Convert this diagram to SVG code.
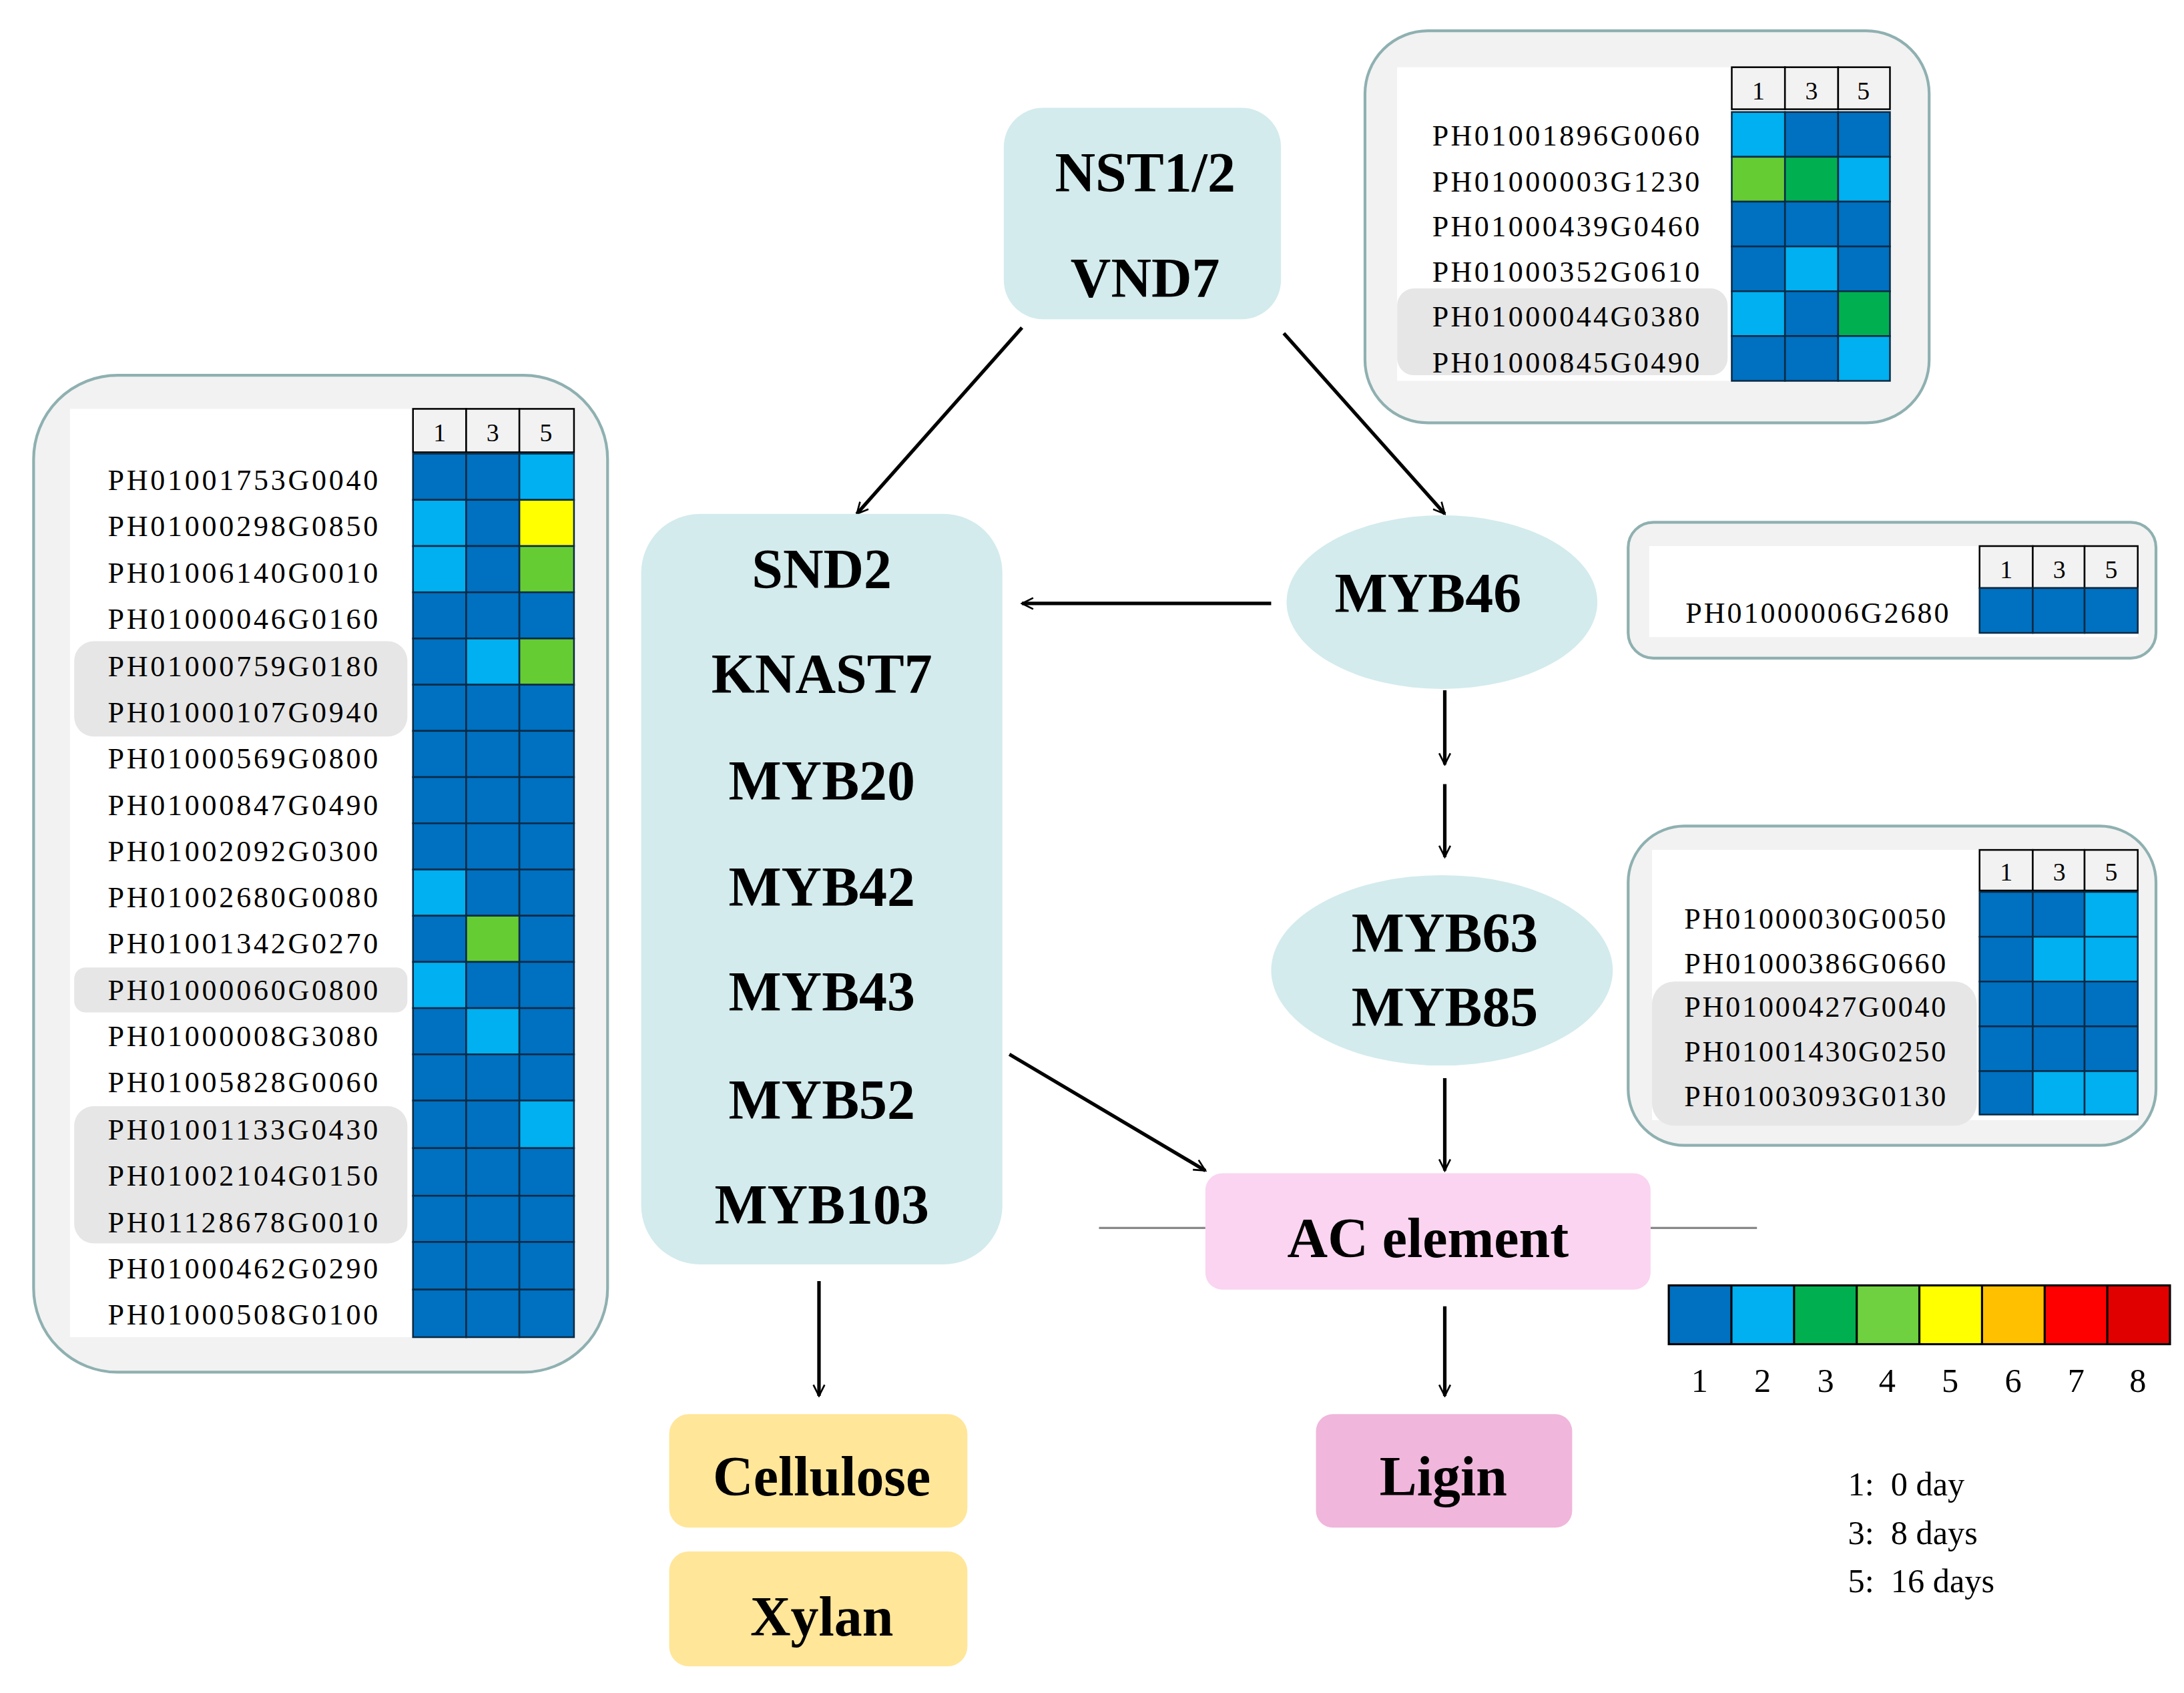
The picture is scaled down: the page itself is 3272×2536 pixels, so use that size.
<svg xmlns="http://www.w3.org/2000/svg" width="3272" height="2536" viewBox="0 0 3272 2536">
<style>
.panel{fill:#f2f2f2;stroke:#8fb0b0;stroke-width:2}
.inner{fill:#fff}
.hl{fill:#e6e6e6}
.gene{font-family:"Liberation Serif",serif;font-size:21px;fill:#000;text-anchor:end}
.hd{fill:#f2f2f2;stroke:#000;stroke-width:1.2}
.hdt{font-family:"Liberation Serif",serif;font-size:18px;text-anchor:middle}
.D{fill:#0070c0;stroke:#0a2a44;stroke-width:1.2}
.L{fill:#00b0f0;stroke:#0a2a44;stroke-width:1.2}
.G3{fill:#00b050;stroke:#0a2a44;stroke-width:1.2}
.G4{fill:#66cc33;stroke:#0a2a44;stroke-width:1.2}
.Y{fill:#ffff00;stroke:#0a2a44;stroke-width:1.2}
.node{fill:#d3ebed}
.big{font-family:"Liberation Serif",serif;font-weight:bold;font-size:40px;text-anchor:middle;fill:#000}
.leg{font-family:"Liberation Serif",serif;font-size:24px;fill:#000}
.arr{stroke:#000;stroke-width:2.5;fill:none;marker-end:url(#ah)}
</style>
<defs>
<marker id="ah" viewBox="0 0 20 20" refX="18" refY="10" markerWidth="10" markerHeight="10" markerUnits="userSpaceOnUse" orient="auto">
<path d="M2,2 L18,10 L2,18" fill="none" stroke="#000" stroke-width="2.5"/>
</marker>
</defs>
<g transform="scale(2.0974)">
<g id="panel-left">
<rect class="panel" x="24" y="268" width="410" height="712" rx="60"/>
<rect class="inner" x="50" y="292" width="360" height="663"/>
<rect class="hl" x="53" y="458" width="238" height="68" rx="14"/>
<rect class="hl" x="53" y="691" width="238" height="32" rx="8"/>
<rect class="hl" x="53" y="790" width="238" height="98" rx="14"/>
<rect class="hd" x="295" y="292" width="38" height="31"/><rect class="hd" x="333" y="292" width="38" height="31"/><rect class="hd" x="371" y="292" width="39" height="31"/>
<text class="hdt" x="314" y="315">1</text><text class="hdt" x="352" y="315">3</text><text class="hdt" x="390" y="315">5</text>
<g class="gene">
<text x="270" y="350" textLength="193">PH01001753G0040</text>
<text x="270" y="383" textLength="193">PH01000298G0850</text>
<text x="270" y="416" textLength="193">PH01006140G0010</text>
<text x="270" y="449" textLength="193">PH01000046G0160</text>
<text x="270" y="483" textLength="193">PH01000759G0180</text>
<text x="270" y="516" textLength="193">PH01000107G0940</text>
<text x="270" y="549" textLength="193">PH01000569G0800</text>
<text x="270" y="582" textLength="193">PH01000847G0490</text>
<text x="270" y="615" textLength="193">PH01002092G0300</text>
<text x="270" y="648" textLength="193">PH01002680G0080</text>
<text x="270" y="681" textLength="193">PH01001342G0270</text>
<text x="270" y="714" textLength="193">PH01000060G0800</text>
<text x="270" y="747" textLength="193">PH01000008G3080</text>
<text x="270" y="780" textLength="193">PH01005828G0060</text>
<text x="270" y="814" textLength="193">PH01001133G0430</text>
<text x="270" y="847" textLength="193">PH01002104G0150</text>
<text x="270" y="880" textLength="193">PH01128678G0010</text>
<text x="270" y="913" textLength="193">PH01000462G0290</text>
<text x="270" y="946" textLength="193">PH01000508G0100</text>
</g>
<g>
<rect class="D" x="295" y="324" width="38" height="33"/><rect class="D" x="333" y="324" width="38" height="33"/><rect class="L" x="371" y="324" width="39" height="33"/>
<rect class="L" x="295" y="357" width="38" height="33"/><rect class="D" x="333" y="357" width="38" height="33"/><rect class="Y" x="371" y="357" width="39" height="33"/>
<rect class="L" x="295" y="390" width="38" height="33"/><rect class="D" x="333" y="390" width="38" height="33"/><rect class="G4" x="371" y="390" width="39" height="33"/>
<rect class="D" x="295" y="423" width="38" height="33"/><rect class="D" x="333" y="423" width="38" height="33"/><rect class="D" x="371" y="423" width="39" height="33"/>
<rect class="D" x="295" y="456" width="38" height="33"/><rect class="L" x="333" y="456" width="38" height="33"/><rect class="G4" x="371" y="456" width="39" height="33"/>
<rect class="D" x="295" y="489" width="38" height="33"/><rect class="D" x="333" y="489" width="38" height="33"/><rect class="D" x="371" y="489" width="39" height="33"/>
<rect class="D" x="295" y="522" width="38" height="33"/><rect class="D" x="333" y="522" width="38" height="33"/><rect class="D" x="371" y="522" width="39" height="33"/>
<rect class="D" x="295" y="555" width="38" height="33"/><rect class="D" x="333" y="555" width="38" height="33"/><rect class="D" x="371" y="555" width="39" height="33"/>
<rect class="D" x="295" y="588" width="38" height="33"/><rect class="D" x="333" y="588" width="38" height="33"/><rect class="D" x="371" y="588" width="39" height="33"/>
<rect class="L" x="295" y="621" width="38" height="33"/><rect class="D" x="333" y="621" width="38" height="33"/><rect class="D" x="371" y="621" width="39" height="33"/>
<rect class="D" x="295" y="654" width="38" height="33"/><rect class="G4" x="333" y="654" width="38" height="33"/><rect class="D" x="371" y="654" width="39" height="33"/>
<rect class="L" x="295" y="687" width="38" height="33"/><rect class="D" x="333" y="687" width="38" height="33"/><rect class="D" x="371" y="687" width="39" height="33"/>
<rect class="D" x="295" y="720" width="38" height="33"/><rect class="L" x="333" y="720" width="38" height="33"/><rect class="D" x="371" y="720" width="39" height="33"/>
<rect class="D" x="295" y="753" width="38" height="33"/><rect class="D" x="333" y="753" width="38" height="33"/><rect class="D" x="371" y="753" width="39" height="33"/>
<rect class="D" x="295" y="786" width="38" height="34"/><rect class="D" x="333" y="786" width="38" height="34"/><rect class="L" x="371" y="786" width="39" height="34"/>
<rect class="D" x="295" y="820" width="38" height="34"/><rect class="D" x="333" y="820" width="38" height="34"/><rect class="D" x="371" y="820" width="39" height="34"/>
<rect class="D" x="295" y="854" width="38" height="33"/><rect class="D" x="333" y="854" width="38" height="33"/><rect class="D" x="371" y="854" width="39" height="33"/>
<rect class="D" x="295" y="887" width="38" height="34"/><rect class="D" x="333" y="887" width="38" height="34"/><rect class="D" x="371" y="887" width="39" height="34"/>
<rect class="D" x="295" y="921" width="38" height="34"/><rect class="D" x="333" y="921" width="38" height="34"/><rect class="D" x="371" y="921" width="39" height="34"/>
</g>
</g>
<g id="panel-top-right">
<rect class="panel" x="975" y="22" width="403" height="280" rx="45"/>
<rect class="inner" x="998" y="48" width="352" height="224"/>
<rect class="hl" x="998" y="206" width="236" height="62" rx="12"/>
<rect class="hd" x="1237" y="48" width="38" height="30"/><rect class="hd" x="1275" y="48" width="38" height="30"/><rect class="hd" x="1313" y="48" width="37" height="30"/>
<text class="hdt" x="1256" y="71">1</text><text class="hdt" x="1294" y="71">3</text><text class="hdt" x="1331" y="71">5</text>
<g class="gene">
<text x="1214" y="104" textLength="191">PH01001896G0060</text>
<text x="1214" y="137" textLength="191">PH01000003G1230</text>
<text x="1214" y="169" textLength="191">PH01000439G0460</text>
<text x="1214" y="201" textLength="191">PH01000352G0610</text>
<text x="1214" y="233" textLength="191">PH01000044G0380</text>
<text x="1214" y="266" textLength="191">PH01000845G0490</text>
</g>
<rect class="L" x="1237" y="80" width="38" height="32"/><rect class="D" x="1275" y="80" width="38" height="32"/><rect class="D" x="1313" y="80" width="37" height="32"/>
<rect class="G4" x="1237" y="112" width="38" height="32"/><rect class="G3" x="1275" y="112" width="38" height="32"/><rect class="L" x="1313" y="112" width="37" height="32"/>
<rect class="D" x="1237" y="144" width="38" height="32"/><rect class="D" x="1275" y="144" width="38" height="32"/><rect class="D" x="1313" y="144" width="37" height="32"/>
<rect class="D" x="1237" y="176" width="38" height="32"/><rect class="L" x="1275" y="176" width="38" height="32"/><rect class="D" x="1313" y="176" width="37" height="32"/>
<rect class="L" x="1237" y="208" width="38" height="32"/><rect class="D" x="1275" y="208" width="38" height="32"/><rect class="G3" x="1313" y="208" width="37" height="32"/>
<rect class="D" x="1237" y="240" width="38" height="32"/><rect class="D" x="1275" y="240" width="38" height="32"/><rect class="L" x="1313" y="240" width="37" height="32"/>
</g>
<g id="panel-mid-right">
<rect class="panel" x="1163" y="373" width="377" height="97" rx="18"/>
<rect class="inner" x="1178" y="390" width="349" height="65"/>
<rect class="hd" x="1414" y="390" width="38" height="30"/><rect class="hd" x="1452" y="390" width="37" height="30"/><rect class="hd" x="1489" y="390" width="38" height="30"/>
<text class="hdt" x="1433" y="413">1</text><text class="hdt" x="1471" y="413">3</text><text class="hdt" x="1508" y="413">5</text>
<text class="gene" x="1392" y="445" textLength="188">PH01000006G2680</text>
<rect class="D" x="1414" y="420" width="38" height="32"/><rect class="D" x="1452" y="420" width="37" height="32"/><rect class="D" x="1489" y="420" width="38" height="32"/>
</g>
<g id="panel-low-right">
<rect class="panel" x="1163" y="590" width="377" height="228" rx="40"/>
<rect class="inner" x="1180" y="607" width="347" height="193"/>
<rect class="hl" x="1180" y="701" width="232" height="103" rx="16"/>
<rect class="hd" x="1414" y="607" width="38" height="29"/><rect class="hd" x="1452" y="607" width="37" height="29"/><rect class="hd" x="1489" y="607" width="38" height="29"/>
<text class="hdt" x="1433" y="629">1</text><text class="hdt" x="1471" y="629">3</text><text class="hdt" x="1508" y="629">5</text>
<g class="gene">
<text x="1390" y="663" textLength="187">PH01000030G0050</text>
<text x="1390" y="695" textLength="187">PH01000386G0660</text>
<text x="1390" y="726" textLength="187">PH01000427G0040</text>
<text x="1390" y="758" textLength="187">PH01001430G0250</text>
<text x="1390" y="790" textLength="187">PH01003093G0130</text>
</g>
<rect class="D" x="1414" y="637" width="38" height="32"/><rect class="D" x="1452" y="637" width="37" height="32"/><rect class="L" x="1489" y="637" width="38" height="32"/>
<rect class="D" x="1414" y="669" width="38" height="32"/><rect class="L" x="1452" y="669" width="37" height="32"/><rect class="L" x="1489" y="669" width="38" height="32"/>
<rect class="D" x="1414" y="701" width="38" height="32"/><rect class="D" x="1452" y="701" width="37" height="32"/><rect class="D" x="1489" y="701" width="38" height="32"/>
<rect class="D" x="1414" y="733" width="38" height="32"/><rect class="D" x="1452" y="733" width="37" height="32"/><rect class="D" x="1489" y="733" width="38" height="32"/>
<rect class="D" x="1414" y="765" width="38" height="31"/><rect class="L" x="1452" y="765" width="37" height="31"/><rect class="L" x="1489" y="765" width="38" height="31"/>
</g>
<g id="legend">
<rect x="1192" y="918" width="44.75" height="42" fill="#0070c0"/>
<rect x="1236.75" y="918" width="44.75" height="42" fill="#00b0f0"/>
<rect x="1281.5" y="918" width="44.75" height="42" fill="#00b050"/>
<rect x="1326.25" y="918" width="44.75" height="42" fill="#6fd13f"/>
<rect x="1371" y="918" width="44.75" height="42" fill="#ffff00"/>
<rect x="1415.75" y="918" width="44.75" height="42" fill="#ffc000"/>
<rect x="1460.5" y="918" width="44.75" height="42" fill="#ff0000"/>
<rect x="1505.25" y="918" width="44.75" height="42" fill="#e00000"/>
<g stroke="#000" stroke-width="1.5" fill="none">
<rect x="1192" y="918" width="358" height="42"/>
<path d="M1236.75,918v42M1281.5,918v42M1326.25,918v42M1371,918v42M1415.75,918v42M1460.5,918v42M1505.25,918v42"/>
</g>
<g class="leg" text-anchor="middle">
<text x="1214" y="994">1</text><text x="1259" y="994">2</text><text x="1304" y="994">3</text><text x="1348" y="994">4</text><text x="1393" y="994">5</text><text x="1438" y="994">6</text><text x="1483" y="994">7</text><text x="1527" y="994">8</text>
</g>
<text class="leg" x="1320" y="1068" xml:space="preserve">1:  0 day</text>
<text class="leg" x="1320" y="1103" xml:space="preserve">3:  8 days</text>
<text class="leg" x="1320" y="1137" xml:space="preserve">5:  16 days</text>
</g>
<g id="connectors">
<path d="M785,877H861M1179,877H1255" stroke="#888" stroke-width="1.5"/>
<path class="arr" d="M730,234L612,367"/>
<path class="arr" d="M917,238L1032,367"/>
<path class="arr" d="M908,431L730,431"/>
<path class="arr" d="M1032,493V546"/>
<path class="arr" d="M1032,560V612"/>
<path class="arr" d="M1032,770V836"/>
<path class="arr" d="M721,753L861,836"/>
<path class="arr" d="M585,915V997"/>
<path class="arr" d="M1032,933V997"/>
</g>
<g id="node-nst">
<rect class="node" x="717" y="77" width="198" height="151" rx="28"/>
<text class="big" x="818" y="137">NST1/2</text>
<text class="big" x="818" y="212">VND7</text>
</g>
<g id="node-snd2">
<rect class="node" x="458" y="367" width="258" height="536" rx="42"/>
<text class="big" x="587" y="420">SND2</text>
<text class="big" x="587" y="495">KNAST7</text>
<text class="big" x="587" y="571">MYB20</text>
<text class="big" x="587" y="647">MYB42</text>
<text class="big" x="587" y="722">MYB43</text>
<text class="big" x="587" y="799">MYB52</text>
<text class="big" x="587" y="874">MYB103</text>
</g>
<g id="node-myb46">
<ellipse class="node" cx="1030" cy="430" rx="111" ry="62"/>
<text class="big" x="1020" y="437">MYB46</text>
</g>
<g id="node-myb63">
<ellipse class="node" cx="1030" cy="693" rx="122" ry="68"/>
<text class="big" x="1032" y="680">MYB63</text>
<text class="big" x="1032" y="733">MYB85</text>
</g>
<g id="node-ac">
<rect x="861" y="838" width="318" height="83" rx="12" fill="#fad4f0"/>
<text class="big" x="1020" y="898" font-size="38">AC element</text>
</g>
<g id="node-cellulose">
<rect x="478" y="1010" width="213" height="81" rx="14" fill="#ffe699"/>
<text class="big" x="587" y="1068">Cellulose</text>
</g>
<g id="node-xylan">
<rect x="478" y="1108" width="213" height="82" rx="14" fill="#ffe699"/>
<text class="big" x="587" y="1168">Xylan</text>
</g>
<g id="node-ligin">
<rect x="940" y="1010" width="183" height="81" rx="12" fill="#f0b6db"/>
<text class="big" x="1031" y="1068">Ligin</text>
</g>
</g>
</svg>
